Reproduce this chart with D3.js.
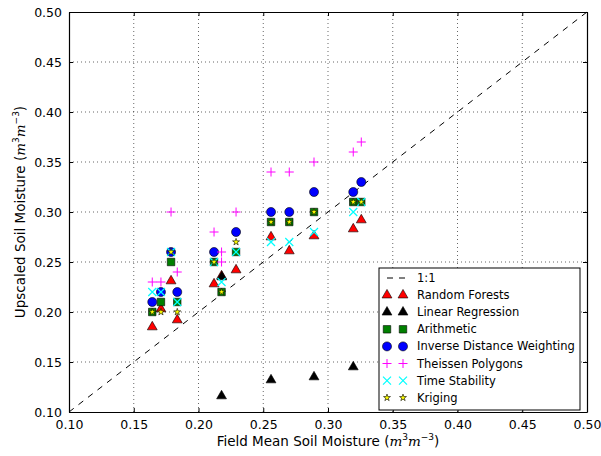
<!DOCTYPE html>
<html>
<head>
<meta charset="utf-8">
<script src="https://cdn.jsdelivr.net/npm/d3@7"></script>
<style>
  body { margin: 0; background: #fff; }
  text { font-family: "DejaVu Sans", sans-serif; }
</style>
</head>
<body>
<svg id="chart"></svg>
<script>
// field mean (x) vs upscaled (y), one array per method
var randomForests = [[0.1643,0.185],[0.171,0.203],[0.1788,0.231],[0.1836,0.192],[0.212,0.228],[0.2178,0.236],[0.229,0.242],[0.256,0.275],[0.2701,0.261],[0.2892,0.276],[0.3195,0.283],[0.3257,0.292]];
var linearRegression = [[0.2178,0.116],[0.2180,0.235],[0.256,0.132],[0.2892,0.135],[0.3195,0.145]];
var arithmetic = [[0.1643,0.20],[0.171,0.21],[0.1788,0.25],[0.1836,0.21],[0.212,0.25],[0.2178,0.22],[0.229,0.26],[0.256,0.29],[0.2701,0.29],[0.2892,0.30],[0.3195,0.31],[0.3257,0.31]];
var idw = [[0.1643,0.21],[0.171,0.22],[0.1788,0.26],[0.1836,0.22],[0.212,0.26],[0.229,0.28],[0.256,0.30],[0.2701,0.30],[0.2892,0.32],[0.3195,0.32],[0.3257,0.33]];
var theissen = [[0.1643,0.23],[0.171,0.23],[0.1788,0.30],[0.1836,0.24],[0.212,0.28],[0.2178,0.26],[0.2178,0.25],[0.229,0.30],[0.256,0.34],[0.2701,0.34],[0.2892,0.35],[0.3195,0.36],[0.3257,0.37]];
var timeStability = [[0.1643,0.22],[0.171,0.22],[0.1788,0.26],[0.1836,0.21],[0.212,0.25],[0.2178,0.23],[0.229,0.26],[0.256,0.27],[0.2701,0.27],[0.2892,0.28],[0.3195,0.30],[0.3257,0.31]];
var kriging = [[0.1643,0.20],[0.171,0.20],[0.1788,0.26],[0.1836,0.20],[0.212,0.25],[0.2178,0.22],[0.229,0.27],[0.256,0.29],[0.2701,0.29],[0.2892,0.30],[0.3195,0.31],[0.3257,0.31]];

var tickValues = [0.10, 0.15, 0.20, 0.25, 0.30, 0.35, 0.40, 0.45, 0.50];

var series = [
  {name: "Random Forests", data: randomForests, marker: "tri", fill: "#ff0000"},
  {name: "Linear Regression", data: linearRegression, marker: "tri", fill: "#000000"},
  {name: "Arithmetic", data: arithmetic, marker: "square", fill: "#008000"},
  {name: "Inverse Distance Weighting", data: idw, marker: "circle", fill: "#0000ff"},
  {name: "Theissen Polygons", data: theissen, marker: "plus", fill: "#ff00ff"},
  {name: "Time Stability", data: timeStability, marker: "x", fill: "#00ffff"},
  {name: "Kriging", data: kriging, marker: "star", fill: "#ffff00"}
];

var width = 601, height = 456;
var margin = {left: 69, right: 14, top: 12, bottom: 44};
var svg = d3.select("#chart").attr("width", width).attr("height", height);

var x = d3.scaleLinear().domain([0.1, 0.5]).range([margin.left, width - margin.right]);
var y = d3.scaleLinear().domain([0.1, 0.5]).range([height - margin.bottom, margin.top]);

// grid
var grid = svg.append("g").attr("stroke", "#000").attr("stroke-width", 0.6)
  .attr("stroke-dasharray", "1,3");
grid.selectAll(".gx").data(tickValues.slice(1, -1)).enter().append("line")
  .attr("x1", d => x(d)).attr("x2", d => x(d))
  .attr("y1", y(0.1)).attr("y2", y(0.5));
grid.selectAll(".gy").data(tickValues.slice(1, -1)).enter().append("line")
  .attr("y1", d => y(d)).attr("y2", d => y(d))
  .attr("x1", x(0.1)).attr("x2", x(0.5));

// axes
var fmt = d3.format(".2f");
var xAxis = svg.append("g").attr("transform", "translate(0," + y(0.1) + ")")
  .call(d3.axisBottom(x).tickValues(tickValues).tickFormat(fmt).tickSizeInner(-4).tickSizeOuter(0).tickPadding(8));
var yAxis = svg.append("g").attr("transform", "translate(" + x(0.1) + ",0)")
  .call(d3.axisLeft(y).tickValues(tickValues).tickFormat(fmt).tickSizeInner(-4).tickSizeOuter(0).tickPadding(7));
var xTop = svg.append("g").attr("transform", "translate(0," + y(0.5) + ")")
  .call(d3.axisTop(x).tickValues(tickValues).tickFormat("").tickSizeInner(-4).tickSizeOuter(0));
var yRight = svg.append("g").attr("transform", "translate(" + x(0.5) + ",0)")
  .call(d3.axisRight(y).tickValues(tickValues).tickFormat("").tickSizeInner(-4).tickSizeOuter(0));
[xAxis, yAxis, xTop, yRight].forEach(g => {
  g.selectAll("path").attr("stroke", "#000").attr("stroke-width", 1.2);
  g.selectAll("text").attr("font-size", 12.5).attr("fill", "#000").style("font-family", "DejaVu Sans");
});

// 1:1 line
svg.append("line")
  .attr("x1", x(0.1)).attr("y1", y(0.1)).attr("x2", x(0.5)).attr("y2", y(0.5))
  .attr("stroke", "#000").attr("stroke-width", 1).attr("stroke-dasharray", "6,6");

function drawMarker(g, kind, fill) {
  if (kind === "plus") {
    g.append("path").attr("d", "M-4.5,0H4.5M0,-4.5V4.5").attr("stroke", fill).attr("stroke-width", 1).attr("fill", "none");
  } else if (kind === "x") {
    g.append("path").attr("d", "M-4,-4L4,4M-4,4L4,-4").attr("stroke", fill).attr("stroke-width", 1.2).attr("fill", "none");
  } else {
    var sym = {tri: d3.symbolTriangle, square: d3.symbolSquare, circle: d3.symbolCircle, star: d3.symbolStar}[kind];
    var size = {tri: 42, square: 56, circle: 64, star: 15}[kind];
    g.append("path").attr("d", d3.symbol().type(sym).size(size)())
      .attr("fill", fill).attr("stroke", "#000").attr("stroke-width", 0.6);
  }
}

var plot = svg.append("g");
series.forEach(s => {
  var pts = plot.append("g").selectAll("g").data(s.data).enter().append("g")
    .attr("transform", d => "translate(" + x(d[0]) + "," + y(d[1]) + ")");
  pts.each(function() { drawMarker(d3.select(this), s.marker, s.fill); });
});

// legend
var lx = 379, ly = 268, lw = 201, lh = 142;
var legend = svg.append("g");
legend.append("rect").attr("x", lx).attr("y", ly).attr("width", lw).attr("height", lh)
  .attr("fill", "#fff").attr("stroke", "#000").attr("stroke-width", 1);
var rowH = 17.1;
var first = legend.append("g").attr("transform", "translate(0," + (ly + 10) + ")");
first.append("line").attr("x1", lx + 8).attr("x2", lx + 31).attr("y1", 0).attr("y2", 0)
  .attr("stroke", "#000").attr("stroke-dasharray", "6,6").attr("stroke-width", 1);
first.append("text").attr("x", lx + 38).attr("y", 4).attr("font-size", 11.5).text("1:1");
series.forEach((s, i) => {
  var row = legend.append("g").attr("transform", "translate(0," + (ly + 10 + rowH * (i + 1)) + ")");
  [lx + 8, lx + 24].forEach(mx => drawMarker(row.append("g").attr("transform", "translate(" + mx + ",0)"), s.marker, s.fill));
  row.append("text").attr("x", lx + 38).attr("y", 4).attr("font-size", 11.5).text(s.name);
});

// axis labels
function addLabel(t, main) {
  t.append("tspan").text(main + " (");
  t.append("tspan").style("font-family", "DejaVu Serif").attr("font-style", "italic").text("m");
  t.append("tspan").attr("dy", -6).attr("font-size", 9).text("3");
  t.append("tspan").attr("dy", 6).style("font-family", "DejaVu Serif").attr("font-style", "italic").text("m");
  t.append("tspan").attr("dy", -6).attr("font-size", 9).text("\u22123");
  t.append("tspan").attr("dy", 6).text(")");
}
addLabel(svg.append("text").attr("x", (x(0.1) + x(0.5)) / 2).attr("y", 446)
  .attr("text-anchor", "middle").attr("font-size", 13.5), "Field Mean Soil Moisture");
addLabel(svg.append("text").attr("transform", "translate(25," + ((y(0.1) + y(0.5)) / 2) + ") rotate(-90)")
  .attr("text-anchor", "middle").attr("font-size", 13.5), "Upscaled Soil Moisture");
</script>
</body>
</html>
